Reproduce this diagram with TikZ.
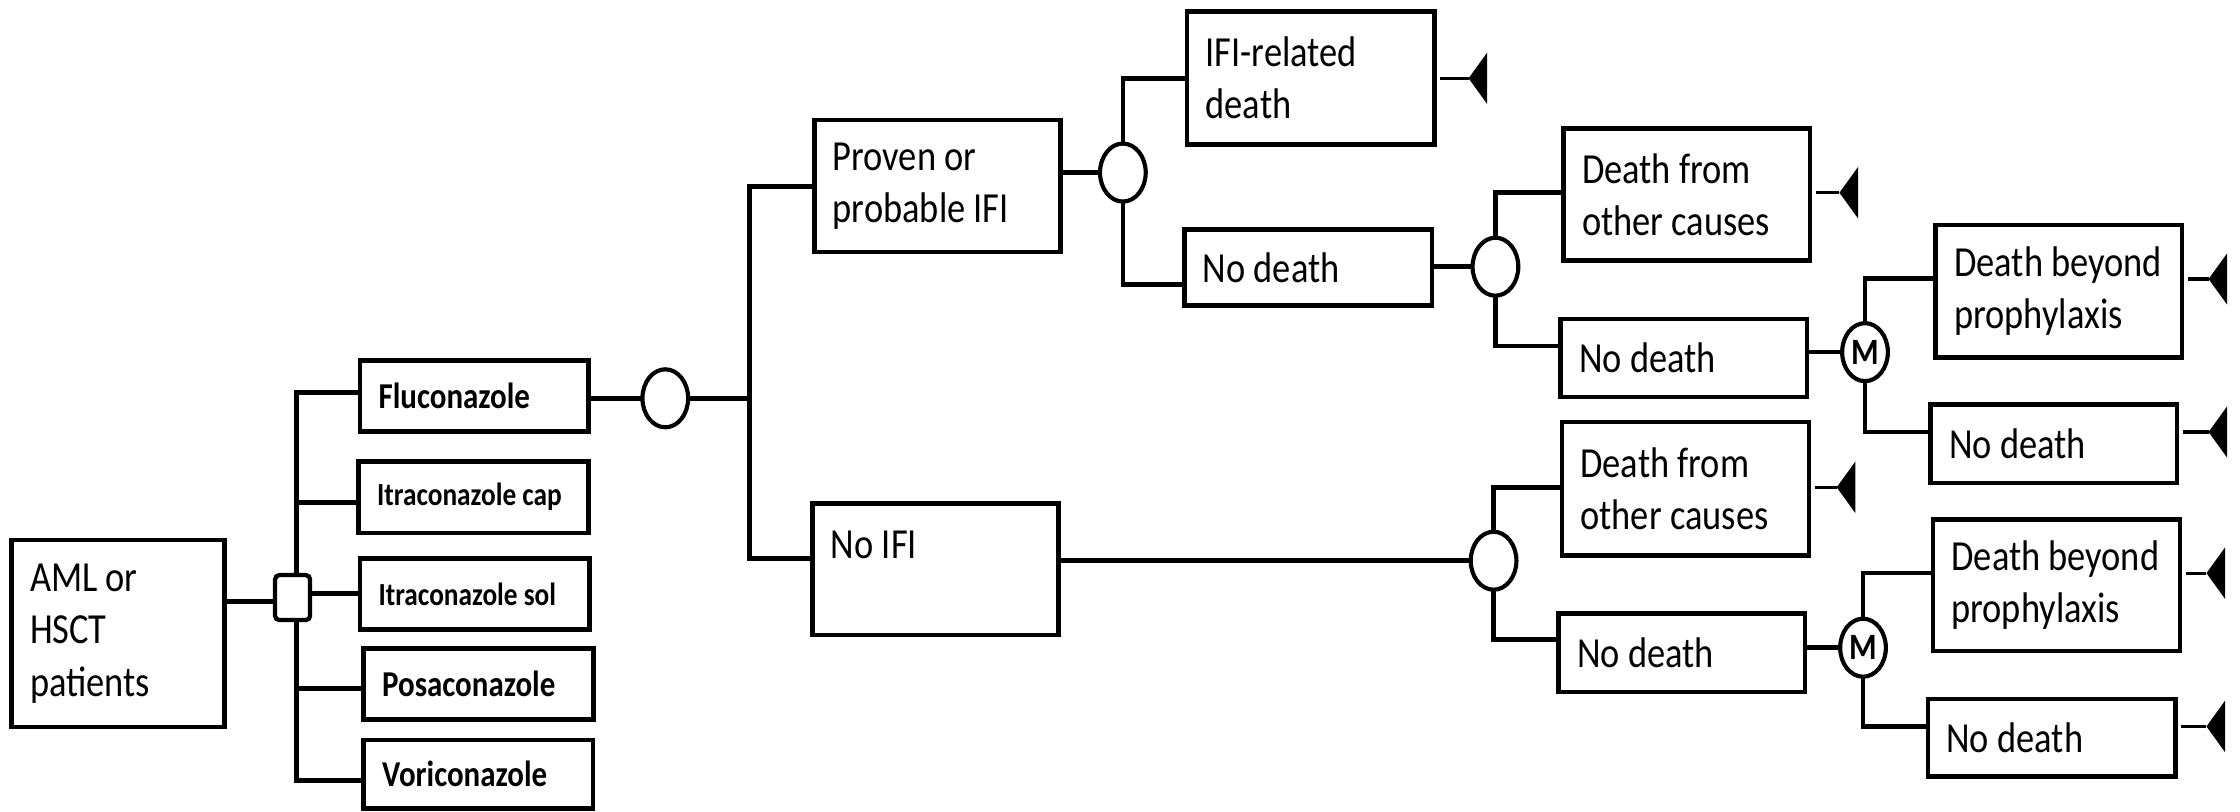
\documentclass[tikz,border=0pt]{standalone}
\usepackage{fontspec}
\setmainfont{Carlito}[FakeStretch=0.85]
\usetikzlibrary{shapes.geometric,backgrounds}
\tikzset{
 box/.style={draw, line width=3.2pt, fill=white, anchor=north west, outer sep=0pt, inner xsep=13pt, inner ysep=0pt, align=flush left, font=\fontsize{30}{36.6}\selectfont},
 drug/.style={box, font=\bfseries\fontsize{25.5}{30}\selectfont},
 drugs/.style={box, font=\bfseries\fontsize{22.5}{26}\selectfont},
 chance/.style={draw, ellipse, line width=2.9pt, fill=white, minimum width=32pt, minimum height=40.6pt, inner sep=0pt, outer sep=0pt},
 markov/.style={chance, font=\bfseries\fontsize{26}{30}\selectfont},
 decision/.style={draw, rectangle, rounded corners=3pt, line width=3pt, fill=white, minimum width=24.5pt, minimum height=31.5pt, inner sep=0pt, outer sep=0pt},
 conn/.style={line width=3.2pt},
 tline/.style={line width=2.2pt, shorten <=4pt},
}
\newcommand\mybox[7][box]{%
 \pgfmathsetmacro\mybw{#5-#3}\pgfmathsetmacro\mybh{#6-#4}\pgfmathsetmacro\mytw{#5-#3-26}%
 \node[#1, minimum width=\mybw pt, minimum height=\mybh pt, text width=\mytw pt] (#2) at (#3,#4) {#7};}
\begin{document}
\begin{tikzpicture}[x=1pt,y=-1pt]
\useasboundingbox (0,0) rectangle (1568,568);
% boxes
\mybox{aml}{8}{378}{157}{509}{AML or\\HSCT\\patients}
\mybox[drug]{flu}{252}{252.5}{412}{302}{Fluconazole}
\mybox[drugs]{icap}{251}{323}{412}{373}{\mbox{Itraconazole cap}}
\mybox[drugs]{isol}{252}{391}{412.5}{440.5}{\mbox{Itraconazole sol}}
\mybox[drug]{posa}{254.5}{454}{415.5}{503.5}{Posaconazole}
\mybox[drug]{vori}{254.5}{518}{415}{566}{Voriconazole}
\mybox{proven}{570}{84}{742.5}{176.5}{Proven or\\probable IFI}
\mybox{ifirel}{831}{8}{1004}{101}{IFI-related\\death}
\mybox{nd1}{829}{160.5}{1002.5}{214}{No death}
\mybox{dfo1}{1094.4}{89.8}{1267}{182.4}{Death from\\other causes}
\mybox{nd2}{1092.5}{223.4}{1265}{278}{No death}
\mybox{dbp1}{1355}{157.6}{1527.5}{250.2}{\mbox{Death beyond}\\prophylaxis}
\mybox{nd3}{1351.5}{283.2}{1524}{338.2}{No death}
\mybox[box,text height=19pt,text depth=34.6pt]{noifi}{568.6}{352.3}{741}{444.5}{No IFI}
\mybox{dfo2}{1093.3}{295.5}{1266.2}{389}{Death from\\other causes}
\mybox{nd4}{1091}{429.4}{1263.5}{484.5}{No death}
\mybox{dbp2}{1353}{363.6}{1526}{455.7}{\mbox{Death beyond}\\prophylaxis}
\mybox{nd5}{1349.5}{489.3}{1523}{543.7}{No death}
% decision and chance nodes
\node[decision] (sq) at (204.8,418.3) {};
\node[chance] (c0) at (465.7,278.8) {};
\node[chance] (c1) at (786,120.8) {};
\node[chance] (c2) at (1046.8,186.7) {};
\node[markov] (m1) at (1305.5,246.5) {M};
\node[chance] (c3) at (1045.5,392.5) {};
\node[markov] (m2) at (1304.1,453.4) {M};
% terminal tips
\coordinate (t1) at (1028,54.8);
\coordinate (t2) at (1287.6,134.9);
\coordinate (t3) at (1546,195.3);
\coordinate (t4) at (1546,302.4);
\coordinate (t5) at (1285.7,341.1);
\coordinate (t6) at (1544.5,401.2);
\coordinate (t7) at (1544.5,508.5);
\begin{scope}[on background layer]
\fill[white] (0,0) rectangle (1568,568);
\draw[conn] (aml.east |- 0,421) -- (sq.west |- 0,421);
\draw[conn] (flu.west |- 0,274.9) -| (207.7,546.5) -- (vori.west |- 0,546.5);
\draw[conn] (207.7,351.6) -- (icap.west |- 0,351.6);
\draw[conn] (sq.east |- 0,415.3) -- (isol.west |- 0,415.3);
\draw[conn] (207.7,481.8) -- (posa.west |- 0,481.8);
\draw[conn] (flu.east |- c0) -- (c0.west);
\draw[conn] (c0.east) -- (524.8,278.8);
\draw[conn] (proven.west |- 0,130.7) -| (524.8,390.8) -- (noifi.west |- 0,390.8);
\draw[conn] (proven.east |- c1) -- (c1.west);
\draw[conn] (ifirel.west |- 0,54.8) -| (786,199) -- (nd1.west |- 0,199);
\draw[conn] (nd1.east |- c2) -- (c2.west);
\draw[conn] (dfo1.west |- 0,134.9) -| (1046.8,242.3) -- (nd2.west |- 0,242.3);
\draw[conn] (nd2.east |- m1) -- (m1.west);
\draw[conn] (dbp1.west |- 0,195.1) -| (1305.5,302.4) -- (nd3.west |- 0,302.4);
\draw[conn] (noifi.east |- c3) -- (c3.west);
\draw[conn] (dfo2.west |- 0,341.1) -| (1045.5,447.8) -- (nd4.west |- 0,447.8);
\draw[conn] (nd4.east |- m2) -- (m2.west);
\draw[conn] (dbp2.west |- 0,401.2) -| (1304.1,508.5) -- (nd5.west |- 0,508.5);
\end{scope}
% terminals
\foreach \b/\t in {ifirel/t1,dfo1/t2,dbp1/t3,nd3/t4,dfo2/t5,dbp2/t6,nd5/t7}{
 \draw[tline] (\b.east |- \t) -- (\t);
 \fill[line join=round] (\t) -- ++(13,-18) -- ++(0,36) -- cycle;
}
\end{tikzpicture}
\end{document}
